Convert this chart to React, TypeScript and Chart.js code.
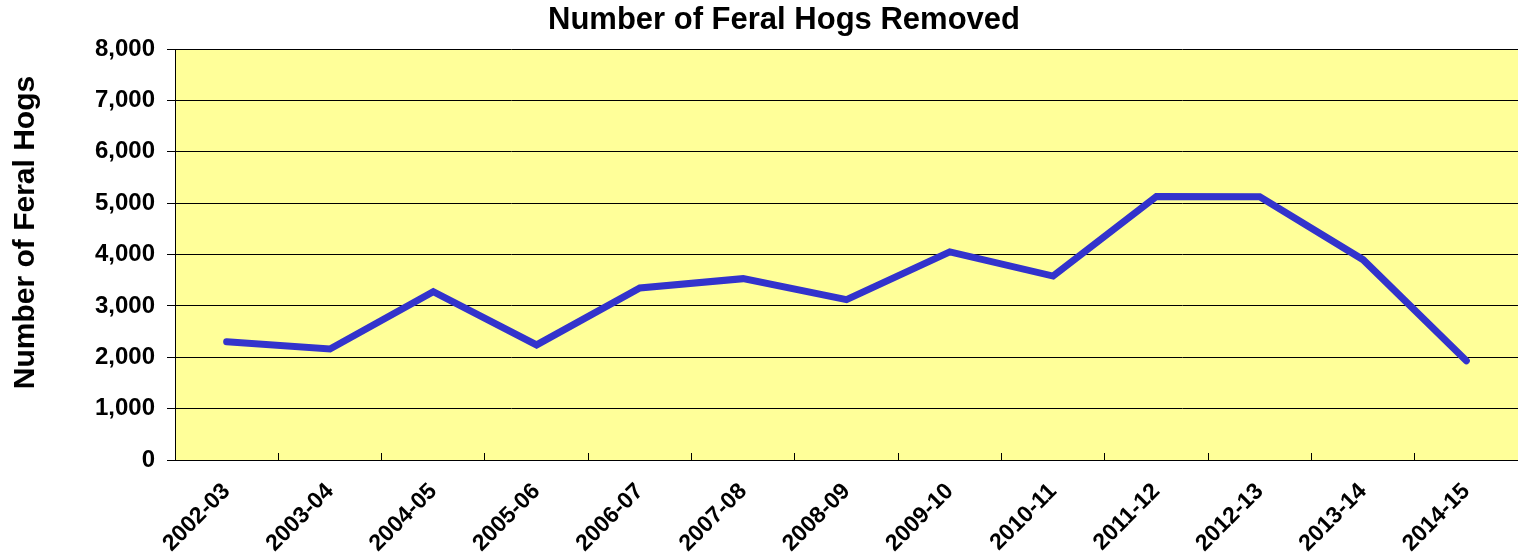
import React, { useEffect, useRef } from "react";
import { Chart, registerables } from "chart.js";

Chart.register(...registerables);

const seasons = [
  "2002-03", "2003-04", "2004-05", "2005-06", "2006-07", "2007-08", "2008-09",
  "2009-10", "2010-11", "2011-12", "2012-13", "2013-14", "2014-15",
];
const hogsRemoved = [2300, 2160, 3275, 2240, 3350, 3530, 3120, 4050, 3580, 5130, 5125, 3900, 1930];
const chartTitle = "Number of Feral Hogs Removed";
const yAxisTitle = "Number of Feral Hogs";

const FONT = "Arial, 'Liberation Sans', sans-serif";

const bgPlugin = {
  id: "plotBg",
  beforeDraw(chart: any) {
    const { ctx, chartArea } = chart;
    ctx.save();
    ctx.fillStyle = "#FFFF99";
    ctx.fillRect(chartArea.left, chartArea.top, chartArea.right - chartArea.left, chartArea.bottom - chartArea.top);
    ctx.restore();
  },
};

const titlePlugin = {
  id: "customTitles",
  afterDraw(chart: any) {
    const { ctx, chartArea } = chart;
    ctx.save();
    ctx.fillStyle = "#000";
    ctx.textAlign = "center";
    ctx.textBaseline = "middle";
    ctx.font = `bold 31px ${FONT}`;
    ctx.fillText(chartTitle, chart.width / 2 + 25, 20);
    ctx.translate(26, (chartArea.top + chartArea.bottom) / 2 - 22);
    ctx.rotate(-Math.PI / 2);
    ctx.font = `bold 30px ${FONT}`;
    ctx.fillText(yAxisTitle, 0, 0);
    ctx.restore();
  },
};

export default function App() {
  const ref = useRef<HTMLCanvasElement>(null);
  useEffect(() => {
    if (!ref.current) return;
    const chart = new Chart(ref.current, {
      type: "line",
      data: {
        labels: seasons,
        datasets: [
          {
            data: hogsRemoved,
            borderColor: "#3333CC",
            borderWidth: 7,
            pointRadius: 0,
            borderCapStyle: "round",
            borderJoinStyle: "miter",
            tension: 0,
          },
        ],
      },
      options: {
        animation: false,
        responsive: true,
        maintainAspectRatio: false,
        layout: { padding: { top: 49, right: 0, left: 0, bottom: 0 } },
        plugins: { legend: { display: false }, title: { display: false }, tooltip: { enabled: false } },
        scales: {
          x: {
            offset: true,
            grid: {
              offset: true,
              drawOnChartArea: false,
              drawTicks: true,
              tickLength: -7,
              color: "#000",
            },
            border: { display: true, color: "#000", width: 1 },
            ticks: {
              autoSkip: false,
              minRotation: 45,
              maxRotation: 45,
              padding: 25,
              color: "#000",
              font: { family: FONT, size: 23, weight: "bold" },
            },
            afterFit(scale: any) {
              scale.height = 96;
            },
          },
          y: {
            min: 0,
            max: 8000,
            ticks: {
              stepSize: 1000,
              padding: 12,
              color: "#000",
              font: { family: FONT, size: 24, weight: "bold" },
            },
            grid: { color: "#000", lineWidth: 1, drawTicks: true, tickLength: 8 },
            border: { display: true, color: "#000", width: 1 },
            title: { display: false },
            afterFit(scale: any) {
              scale.width = 175;
            },
          },
        },
      },
      plugins: [bgPlugin, titlePlugin],
    } as any);
    return () => chart.destroy();
  }, []);
  return (
    <div style={{ position: "fixed", left: 0, top: 0, width: 1518, height: 556, background: "#fff" }}>
      <canvas ref={ref} />
    </div>
  );
}
